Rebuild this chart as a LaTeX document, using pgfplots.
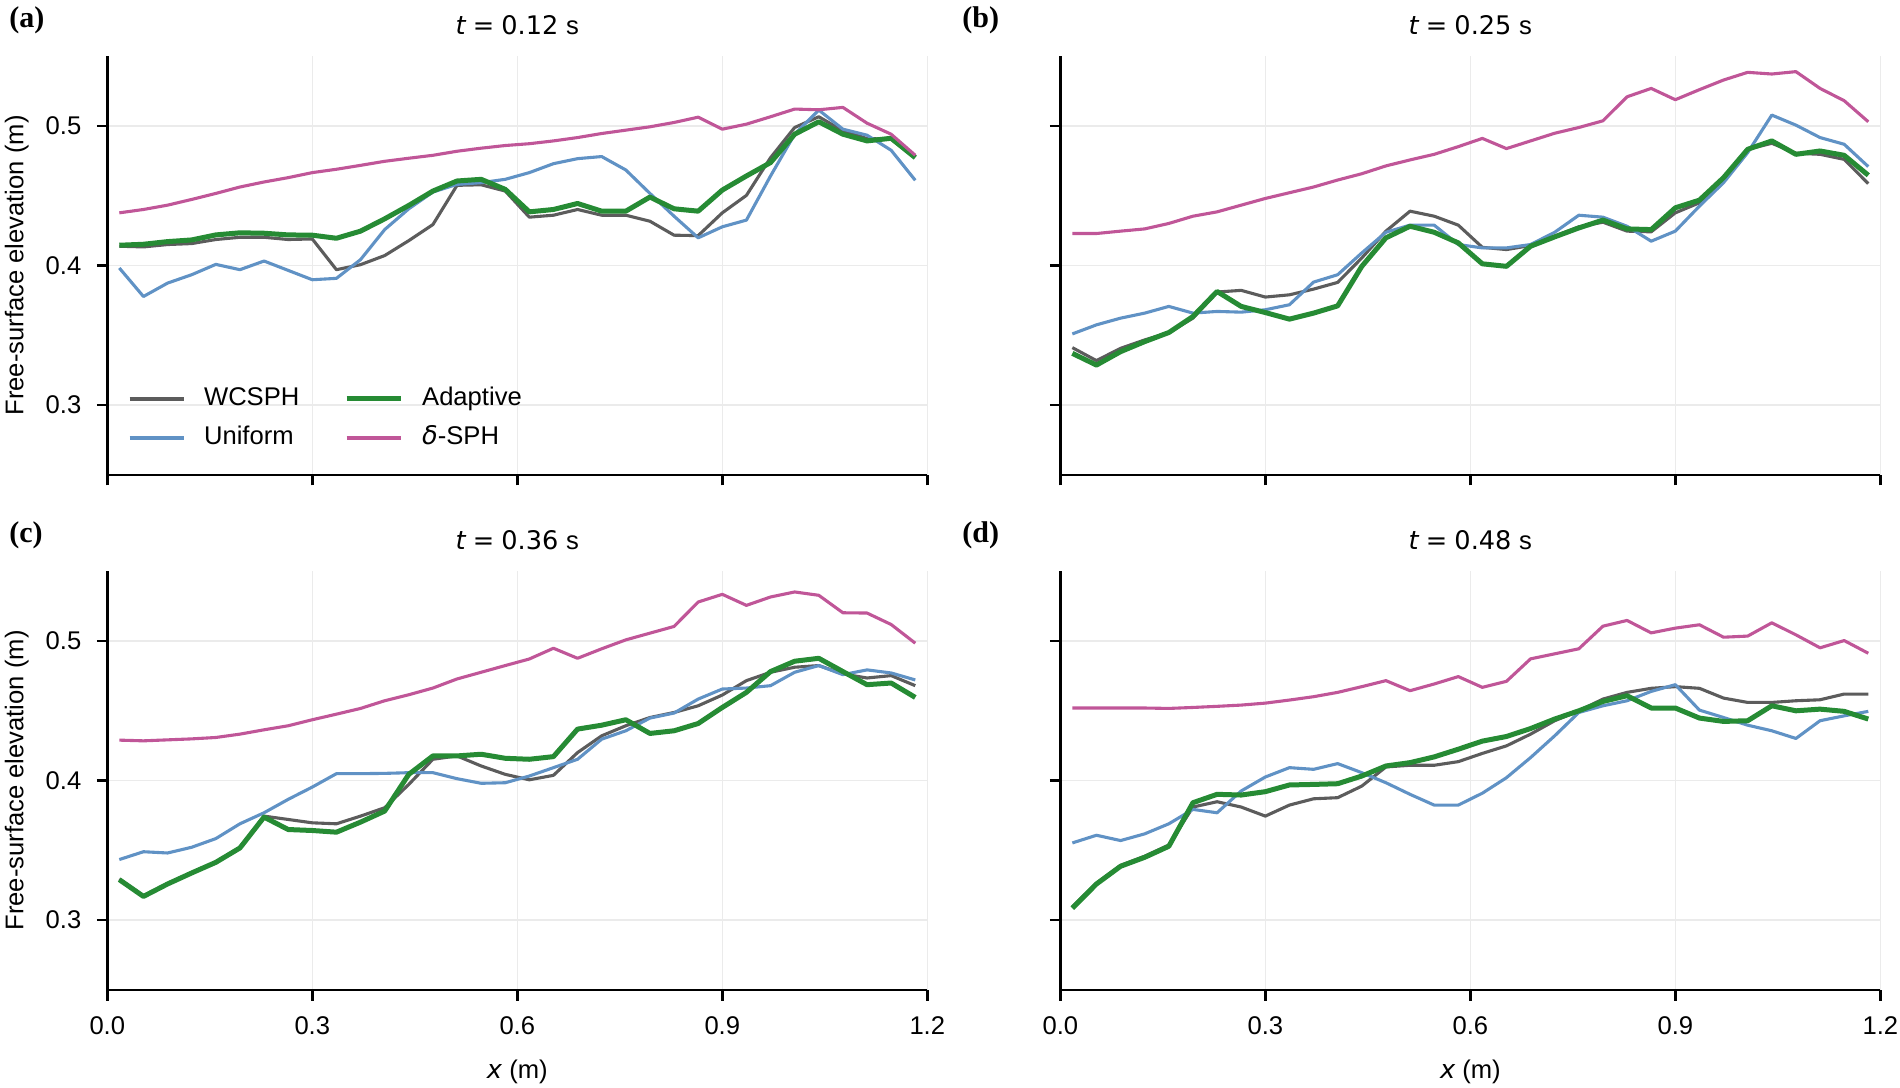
\documentclass[border=0pt]{standalone}
\usepackage{fontspec}
\setmainfont{Liberation Sans}
\newfontfamily\dejavu{DejaVu Sans}
\newfontfamily\timesfont{Liberation Serif}
\usepackage{pgfplots}
\usepackage{pgfplotstable}
\pgfplotsset{compat=1.18}

\definecolor{cw}{RGB}{92,92,92}
\definecolor{cu}{RGB}{96,146,197}
\definecolor{ca}{RGB}{38,139,52}
\definecolor{cd}{RGB}{192,86,152}
\definecolor{gridc}{RGB}{235,235,235}

\pgfplotstableread{
x w u a d
0.0176 0.4138 0.3982 0.4145 0.4377
0.0529 0.4133 0.3778 0.4152 0.4401
0.0882 0.4150 0.3874 0.4171 0.4432
0.1235 0.4157 0.3934 0.4183 0.4473
0.1588 0.4186 0.4008 0.4219 0.4516
0.1941 0.4202 0.3970 0.4234 0.4562
0.2294 0.4202 0.4032 0.4231 0.4598
0.2647 0.4186 0.3965 0.4219 0.4629
0.3000 0.4190 0.3898 0.4217 0.4665
0.3353 0.3970 0.3908 0.4195 0.4689
0.3706 0.4006 0.4042 0.4246 0.4717
0.4059 0.4071 0.4257 0.4334 0.4746
0.4412 0.4178 0.4406 0.4430 0.4768
0.4765 0.4293 0.4526 0.4533 0.4789
0.5118 0.4574 0.4581 0.4605 0.4818
0.5471 0.4578 0.4593 0.4617 0.4840
0.5824 0.4533 0.4617 0.4545 0.4859
0.6176 0.4346 0.4665 0.4384 0.4872
0.6529 0.4360 0.4729 0.4401 0.4892
0.6882 0.4401 0.4765 0.4444 0.4916
0.7235 0.4360 0.4780 0.4389 0.4945
0.7588 0.4360 0.4684 0.4389 0.4969
0.7941 0.4317 0.4516 0.4490 0.4993
0.8294 0.4217 0.4353 0.4406 0.5024
0.8647 0.4214 0.4198 0.4389 0.5062
0.9000 0.4377 0.4277 0.4540 0.4976
0.9353 0.4502 0.4325 0.4641 0.5012
0.9706 0.4772 0.4641 0.4737 0.5065
1.0059 0.4988 0.4940 0.4940 0.5120
1.0412 0.5065 0.5113 0.5029 0.5115
1.0765 0.4964 0.4976 0.4940 0.5132
1.1118 0.4909 0.4933 0.4892 0.5019
1.1471 0.4904 0.4825 0.4911 0.4940
1.1824 0.4784 0.4610 0.4772 0.4789
}\tabA

\pgfplotstableread{
x w u a d
0.0176 0.3412 0.3510 0.3371 0.4229
0.0529 0.3319 0.3575 0.3287 0.4229
0.0882 0.3407 0.3623 0.3383 0.4246
0.1235 0.3467 0.3659 0.3455 0.4262
0.1588 0.3520 0.3707 0.3520 0.4301
0.1941 0.3623 0.3659 0.3635 0.4353
0.2294 0.3810 0.3671 0.3814 0.4384
0.2647 0.3822 0.3666 0.3707 0.4432
0.3000 0.3774 0.3683 0.3663 0.4480
0.3353 0.3790 0.3719 0.3616 0.4521
0.3706 0.3831 0.3881 0.3659 0.4562
0.4059 0.3879 0.3934 0.3711 0.4612
0.4412 0.4054 0.4090 0.3994 0.4657
0.4765 0.4246 0.4238 0.4198 0.4713
0.5118 0.4389 0.4289 0.4281 0.4756
0.5471 0.4353 0.4289 0.4238 0.4796
0.5824 0.4289 0.4150 0.4162 0.4851
0.6176 0.4130 0.4126 0.4012 0.4910
0.6529 0.4114 0.4126 0.3994 0.4837
0.6882 0.4143 0.4150 0.4138 0.4892
0.7235 0.4210 0.4238 0.4205 0.4947
0.7588 0.4277 0.4360 0.4269 0.4988
0.7941 0.4310 0.4346 0.4325 0.5036
0.8294 0.4246 0.4281 0.4262 0.5208
0.8647 0.4241 0.4174 0.4257 0.5268
0.9000 0.4377 0.4246 0.4413 0.5187
0.9353 0.4449 0.4425 0.4468 0.5259
0.9706 0.4617 0.4593 0.4629 0.5328
1.0059 0.4832 0.4808 0.4832 0.5383
1.0412 0.4875 0.5077 0.4892 0.5371
1.0765 0.4804 0.5005 0.4796 0.5388
1.1118 0.4796 0.4916 0.4820 0.5268
1.1471 0.4760 0.4868 0.4789 0.5180
1.1824 0.4586 0.4708 0.4646 0.5029
}\tabB

\pgfplotstableread{
x w u a d
0.0176 0.3295 0.3434 0.3290 0.4289
0.0529 0.3175 0.3490 0.3170 0.4284
0.0882 0.3262 0.3481 0.3259 0.4291
0.1235 0.3340 0.3522 0.3338 0.4298
0.1588 0.3416 0.3584 0.3414 0.4308
0.1941 0.3520 0.3690 0.3517 0.4332
0.2294 0.3745 0.3769 0.3738 0.4363
0.2647 0.3721 0.3865 0.3649 0.4392
0.3000 0.3697 0.3953 0.3642 0.4435
0.3353 0.3690 0.4049 0.3630 0.4475
0.3706 0.3745 0.4049 0.3702 0.4516
0.4059 0.3805 0.4051 0.3781 0.4571
0.4412 0.3972 0.4056 0.4044 0.4614
0.4765 0.4152 0.4056 0.4176 0.4662
0.5118 0.4176 0.4013 0.4176 0.4727
0.5471 0.4104 0.3980 0.4188 0.4775
0.5824 0.4044 0.3984 0.4159 0.4823
0.6176 0.4005 0.4032 0.4152 0.4870
0.6529 0.4037 0.4092 0.4171 0.4947
0.6882 0.4200 0.4152 0.4368 0.4875
0.7235 0.4320 0.4296 0.4396 0.4943
0.7588 0.4392 0.4356 0.4435 0.5007
0.7941 0.4451 0.4447 0.4337 0.5055
0.8294 0.4487 0.4483 0.4356 0.5103
0.8647 0.4535 0.4583 0.4408 0.5278
0.9000 0.4612 0.4655 0.4523 0.5333
0.9353 0.4715 0.4662 0.4631 0.5254
0.9706 0.4775 0.4679 0.4780 0.5314
1.0059 0.4811 0.4775 0.4854 0.5350
1.0412 0.4823 0.4823 0.4875 0.5326
1.0765 0.4763 0.4758 0.4780 0.5201
1.1118 0.4734 0.4792 0.4686 0.5199
1.1471 0.4751 0.4770 0.4698 0.5117
1.1824 0.4679 0.4720 0.4595 0.4983
}\tabC

\pgfplotstableread{
x w u a d
0.0176 0.3095 0.3553 0.3086 0.4519
0.0529 0.3265 0.3608 0.3259 0.4519
0.0882 0.3392 0.3570 0.3386 0.4519
0.1235 0.3458 0.3618 0.3450 0.4519
0.1588 0.3538 0.3690 0.3529 0.4516
0.1941 0.3810 0.3793 0.3841 0.4523
0.2294 0.3848 0.3769 0.3901 0.4531
0.2647 0.3810 0.3925 0.3896 0.4540
0.3000 0.3745 0.4025 0.3920 0.4554
0.3353 0.3824 0.4092 0.3968 0.4576
0.3706 0.3869 0.4080 0.3972 0.4600
0.4059 0.3877 0.4121 0.3977 0.4631
0.4412 0.3960 0.4056 0.4032 0.4672
0.4765 0.4097 0.3984 0.4104 0.4715
0.5118 0.4109 0.3901 0.4128 0.4643
0.5471 0.4109 0.3824 0.4169 0.4691
0.5824 0.4135 0.3824 0.4224 0.4744
0.6176 0.4194 0.3909 0.4282 0.4667
0.6529 0.4248 0.4020 0.4315 0.4710
0.6882 0.4332 0.4164 0.4372 0.4871
0.7235 0.4428 0.4320 0.4440 0.4907
0.7588 0.4499 0.4487 0.4499 0.4943
0.7941 0.4583 0.4535 0.4566 0.5105
0.8294 0.4631 0.4571 0.4607 0.5146
0.8647 0.4660 0.4638 0.4519 0.5057
0.9000 0.4672 0.4686 0.4519 0.5091
0.9353 0.4660 0.4504 0.4447 0.5115
0.9706 0.4590 0.4451 0.4423 0.5026
1.0059 0.4559 0.4396 0.4428 0.5034
1.0412 0.4559 0.4356 0.4535 0.5129
1.0765 0.4571 0.4301 0.4499 0.5043
1.1118 0.4578 0.4428 0.4511 0.4950
1.1471 0.4619 0.4463 0.4495 0.5002
1.1824 0.4619 0.4495 0.4440 0.4911
}\tabD

\newcommand{\fs}{\fontsize{12.8}{15}\selectfont}

\pgfplotsset{
  panel/.style={
    scale only axis, width=410pt, height=209.5pt,
    xmin=0, xmax=1.2, ymin=0.25, ymax=0.55,
    axis x line*=bottom, axis y line*=left,
    axis line style={line width=1.3pt, black},
    xtick={0,0.3,0.6,0.9,1.2},
    ytick={0.3,0.4,0.5},
    tick align=outside,
    major tick length=5.25pt,
    every tick/.style={black, line width=1.3pt},
    grid=major,
    major grid style={color=gridc, line width=0.8pt},
    tick label style={font=\fs},
    /pgf/number format/fixed,
    /pgf/number format/fixed zerofill,
    /pgf/number format/precision=1,
    /pgf/number format/assume math mode=true,
    yticklabel style={inner sep=0pt, xshift=-7.55pt},
    xticklabel style={inner sep=0pt, yshift=-8.1pt},
    every axis plot/.append style={line join=round},
  },
  wline/.style={cw, line width=1.55pt},
  uline/.style={cu, line width=1.55pt},
  aline/.style={ca, line width=2.5pt},
  dline/.style={cd, line width=1.55pt},
}

\newcommand{\fourplots}[1]{%
  \addplot[wline] table[x=x,y=w]{#1};
  \addplot[uline] table[x=x,y=u]{#1};
  \addplot[aline] table[x=x,y=a]{#1};
  \addplot[dline] table[x=x,y=d]{#1};
}

\newcommand{\ttl}[1]{\fs{\dejavu\itshape t}\hspace{0.28em}{\dejavu =}\hspace{0.28em}{\dejavu #1}\hspace{0.3em}s}
\newcommand{\plab}[1]{{\fontsize{15}{18}\selectfont\timesfont\bfseries (#1)}}

\begin{document}
\begin{tikzpicture}
\useasboundingbox (0pt,0pt) rectangle (950pt,543.5pt);

% (a)
\begin{axis}[panel, at={(53.65pt,306pt)}, anchor=south west,
  xticklabels={},
  legend columns=2, transpose legend,
  legend image code/.code={\draw[#1] (0pt,0pt) -- (27pt,0pt);},
  legend style={draw=none, fill=none, inner sep=0pt, outer sep=0pt,
    at={(0,0)}, anchor=south west, xshift=10.35pt, yshift=12.5pt,
    font=\fs, row sep=7.5pt,
    nodes={inner sep=0pt, text height=9.2pt, text depth=2.8pt},
    /tikz/every odd column/.append style={column sep=9.5pt},
    /tikz/every even column/.append style={column sep=22.4pt},
    cells={anchor=west}},
  ]
  \fourplots{\tabA}
  \legend{WCSPH,Uniform,Adaptive,{{\dejavu\itshape δ}-SPH}}
\end{axis}

% (b)
\begin{axis}[panel, at={(530.15pt,306pt)}, anchor=south west,
  xticklabels={}, yticklabels={}]
  \fourplots{\tabB}
\end{axis}

% (c)
\begin{axis}[panel, at={(53.65pt,48.5pt)}, anchor=south west]
  \fourplots{\tabC}
\end{axis}

% (d)
\begin{axis}[panel, at={(530.15pt,48.5pt)}, anchor=south west,
  yticklabels={}]
  \fourplots{\tabD}
\end{axis}

% titles
\node[anchor=base, inner sep=0pt] at (258.65pt,526.35pt) {\ttl{0.12}};
\node[anchor=base, inner sep=0pt] at (735.15pt,526.35pt) {\ttl{0.25}};
\node[anchor=base, inner sep=0pt] at (258.65pt,268.85pt) {\ttl{0.36}};
\node[anchor=base, inner sep=0pt] at (735.15pt,268.85pt) {\ttl{0.48}};

% panel labels
\node[anchor=base west, inner sep=0pt] at (4.5pt,529.5pt) {\plab{a}};
\node[anchor=base west, inner sep=0pt] at (481pt,529.5pt) {\plab{b}};
\node[anchor=base west, inner sep=0pt] at (4.5pt,272pt) {\plab{c}};
\node[anchor=base west, inner sep=0pt] at (481pt,272pt) {\plab{d}};

% y labels
\node[rotate=90, anchor=base, inner sep=0pt] at (11.65pt,410.75pt) {\fs Free-surface elevation (m)};
\node[rotate=90, anchor=base, inner sep=0pt] at (11.65pt,153.25pt) {\fs Free-surface elevation (m)};

% x labels
\node[anchor=base, inner sep=0pt] at (258.65pt,4.5pt) {\fs{\dejavu\itshape x} (m)};
\node[anchor=base, inner sep=0pt] at (735.15pt,4.5pt) {\fs{\dejavu\itshape x} (m)};
\end{tikzpicture}
\end{document}
